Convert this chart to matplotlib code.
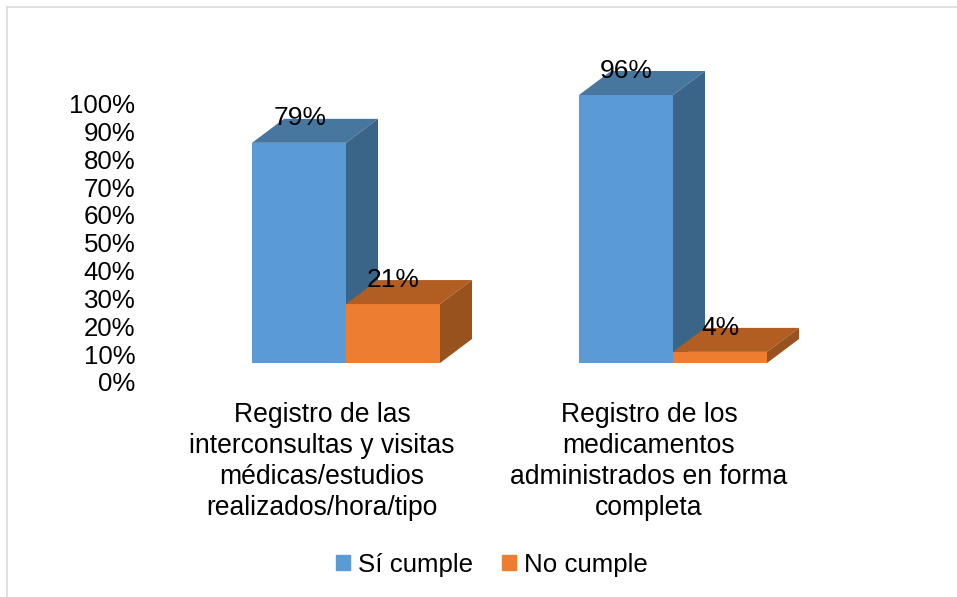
import matplotlib
matplotlib.use("Agg")
import matplotlib.pyplot as plt
from matplotlib.patches import Patch, Polygon
from matplotlib.lines import Line2D
from matplotlib.transforms import Affine2D

categories = ["Registro de las\ninterconsultas y visitas\nmédicas/estudios\nrealizados/hora/tipo",
              "Registro de los\nmedicamentos\nadministrados en forma\ncompleta"]
si_cumple = [79, 96]
no_cumple = [21, 4]
# Drawn heights in the reference (the 3D bars sit slightly above their labels' values)
si_drawn = [79.2, 96.4]
no_drawn = [21.2, 4.0]
y_ticks = list(range(0, 101, 10))
series_names = ["Sí cumple", "No cumple"]

W, H = 957, 597
FS = 18.6
FS_CAT = 19.1
plt.rcParams["font.family"] = ["Liberation Sans", "DejaVu Sans"]

fig = plt.figure(figsize=(W / 100, H / 100), dpi=100, facecolor="white")
ax = fig.add_axes([182.5 / W, 1 - 363 / H, 654 / W, 278 / H])
ax.set_xlim(-0.5, 1.5)
ax.set_ylim(0, 100)
ax.patch.set_visible(False)
for s in ax.spines.values():
    s.set_visible(False)

BLUE = ("#5B9BD5", "#47769F", "#3A6488")
ORANGE = ("#ED7D31", "#B25D22", "#97521E")
bw = 94 / 327
dx = 32 / 327
dy = 24 / 2.78


def bar3d(x, h, cols):
    ax.bar(x, h, bw, align="edge", color=cols[0], clip_on=False, zorder=3)
    ax.add_patch(Polygon([(x, h), (x + bw, h), (x + bw + dx, h + dy), (x + dx, h + dy)],
                         closed=True, fc=cols[1], ec="none", clip_on=False, zorder=3))
    ax.add_patch(Polygon([(x + bw, 0), (x + bw + dx, dy), (x + bw + dx, h + dy), (x + bw, h)],
                         closed=True, fc=cols[2], ec="none", clip_on=False, zorder=3))


for i in range(len(categories)):
    bar3d(i - bw, si_drawn[i], BLUE)
    bar3d(i, no_drawn[i], ORANGE)
    ax.annotate(f"{si_cumple[i]}%", (i - bw / 2 + 0.002, si_drawn[i]), xytext=(0, 17.6), textcoords="offset points",
                ha="center", va="center", fontsize=19, color="black", zorder=5, annotation_clip=False)
    ax.annotate(f"{no_cumple[i]}%", (i + bw / 2, no_drawn[i]), xytext=(0, 17.2), textcoords="offset points",
                ha="center", va="center", fontsize=19, color="black", zorder=5, annotation_clip=False)

ax.set_yticks(y_ticks)
ax.set_yticklabels([f"{v}%" for v in y_ticks], fontsize=FS, color="black")
ax.tick_params(axis="y", length=0, pad=34)
for lab in ax.get_yticklabels():
    lab.set_transform(lab.get_transform() + Affine2D().translate(0, -18.8))

ax.set_xticks(range(len(categories)))
ax.set_xticklabels(categories, fontsize=FS_CAT, color="black", linespacing=1.24)
ax.tick_params(axis="x", length=0, pad=28.4)
for lab in ax.get_xticklabels():
    lab.set_transform(lab.get_transform() + Affine2D().translate(-24, 0))

handles = [Patch(color=BLUE[0], label=series_names[0]), Patch(color=ORANGE[0], label=series_names[1])]
fig.legend(handles=handles, loc="center", bbox_to_anchor=(492 / W, 1 - 565 / H), ncol=2, frameon=False,
           fontsize=FS, handlelength=0.52, handleheight=0.52, handletextpad=0.32, columnspacing=1.14,
           borderpad=0, labelcolor="black")

fig.add_artist(Line2D([7.5 / W, 7.5 / W], [0, 1 - 6.5 / H], color="#D9D9D9", lw=1.1))
fig.add_artist(Line2D([7.5 / W, 1], [1 - 6.5 / H, 1 - 6.5 / H], color="#D9D9D9", lw=1.1))

fig.savefig("out.png", dpi=100, facecolor="white")
